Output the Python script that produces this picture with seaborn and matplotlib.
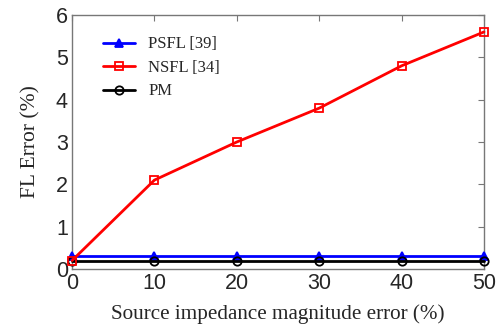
import matplotlib
matplotlib.use("Agg")
import matplotlib.pyplot as plt
import seaborn as sns
import pandas as pd

x_vals = [0, 10, 20, 30, 40, 50]
psfl = [0.3, 0.3, 0.3, 0.3, 0.3, 0.3]
nsfl = [0.2, 2.1, 3.0, 3.8, 4.8, 5.6]
pm = [0.2, 0.2, 0.2, 0.2, 0.2, 0.2]
labels = ["PSFL [39]", "NSFL [34]", "PM"]
x_ticks = [0, 10, 20, 30, 40, 50]
y_ticks = [0, 1, 2, 3, 4, 5, 6]

sns.set_style("white")
plt.rcParams["font.family"] = ["Liberation Sans", "DejaVu Sans"]

fig = plt.figure(figsize=(5.02, 3.24), dpi=100)
ax = fig.add_axes([72/502, 1-269/324, (484-72)/502, (269-15)/324])

df = pd.DataFrame({
    "x": x_vals * 3,
    "y": psfl + nsfl + pm,
    "series": [labels[0]]*6 + [labels[1]]*6 + [labels[2]]*6,
})
colors = {labels[0]: "#0000ff", labels[1]: "#ff0000", labels[2]: "#000000"}
markers = {labels[0]: "^", labels[1]: "s", labels[2]: "o"}
for lab in labels:
    sub = df[df["series"] == lab]
    filled = lab == labels[0]
    sns.lineplot(data=sub, x="x", y="y", ax=ax, color=colors[lab], lw=2,
                 marker=markers[lab], markersize=6,
                 markerfacecolor=colors[lab] if filled else "none",
                 markeredgecolor=colors[lab], markeredgewidth=1.3,
                 label=lab, zorder=3 if lab != labels[1] else 4, clip_on=False)

ax.set_xlim(0, 50)
ax.set_ylim(0, 6)
ax.set_xticks(x_ticks)
ax.set_yticks(y_ticks)
ax.tick_params(direction="in", length=4, color="#777777", labelsize=15.5,
               top=True, right=True, pad=3)
for sp in ax.spines.values():
    sp.set_color("#777777")
    sp.set_linewidth(1)
for t in ax.get_xticklabels() + ax.get_yticklabels():
    t.set_fontfamily("Liberation Sans")

ax.set_xlabel("Source impedance magnitude error (%)", fontfamily="Liberation Serif",
              fontsize=15.2, labelpad=7)
ax.set_ylabel("FL Error (%)", fontfamily="Liberation Serif", fontsize=15.5, labelpad=11)

leg = ax.legend(loc="upper left", bbox_to_anchor=(0.04, 0.975), frameon=False,
                prop={"family": "Liberation Serif", "size": 12}, handlelength=1.9,
                labelspacing=0.45, handletextpad=0.8)

fig.savefig("out.png", dpi=100)
